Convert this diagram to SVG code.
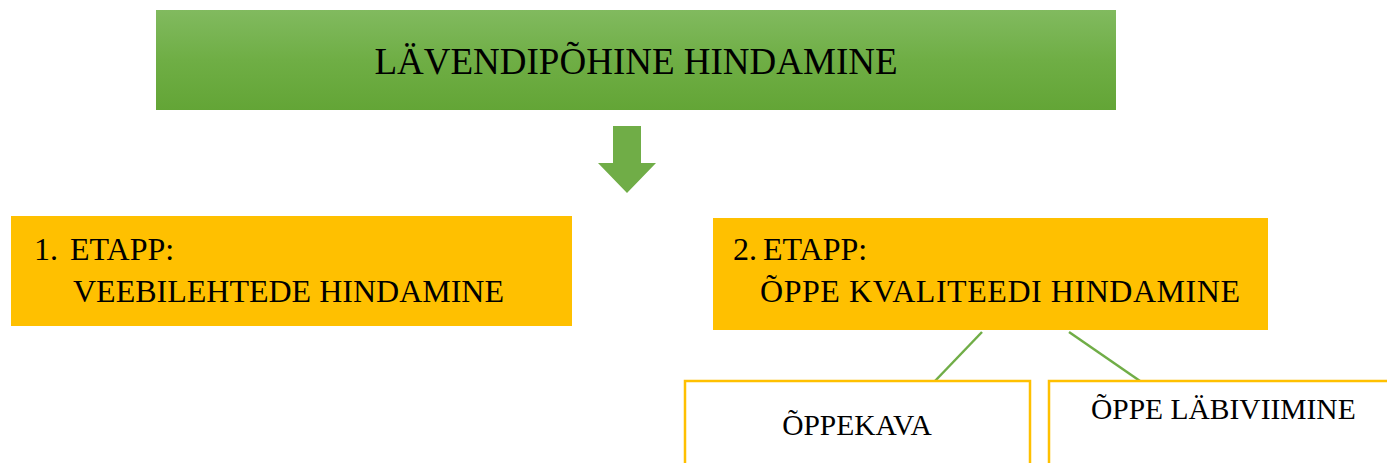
<svg xmlns="http://www.w3.org/2000/svg" width="1387" height="463" viewBox="0 0 1387 463">
<defs>
<linearGradient id="g" x1="0" y1="0" x2="0" y2="1">
<stop offset="0" stop-color="#81ba5f"/>
<stop offset="0.5" stop-color="#6fae45"/>
<stop offset="1" stop-color="#63a536"/>
</linearGradient>
</defs>
<style>
text{font-family:"Liberation Serif","Times New Roman",serif;fill:#000}
.y{fill:#ffc000}
.o{fill:#fff;stroke:#ffc000;stroke-width:2.5}
.c{stroke:#70ad47;stroke-width:2.5;fill:none}
</style>
<rect width="1387" height="463" fill="#fff"/>
<g id="title">
<rect x="156" y="10" width="960" height="100" fill="url(#g)"/>
<text x="636" y="74" font-size="37" text-anchor="middle">LÄVENDIPÕHINE HINDAMINE</text>
</g>
<g id="arrow">
<polygon points="613,126 641,126 641,163 656,163 627,193 598,163 613,163" fill="#70ad47"/>
</g>
<g id="etapp1">
<rect class="y" x="11" y="216" width="561" height="110"/>
<text x="34" y="260" font-size="32">1.</text>
<text x="70" y="260" font-size="32">ETAPP:</text>
<text x="73" y="302" font-size="32">VEEBILEHTEDE HINDAMINE</text>
</g>
<g id="etapp2">
<rect class="y" x="713" y="218" width="555" height="112"/>
<text x="733" y="260" font-size="32">2.</text>
<text x="763" y="260" font-size="32">ETAPP:</text>
<text x="760" y="302" font-size="32" textLength="480" lengthAdjust="spacing">ÕPPE KVALITEEDI HINDAMINE</text>
</g>
<g id="connectors">
<line class="c" x1="982" y1="332" x2="935" y2="381"/>
<line class="c" x1="1069" y1="332" x2="1140" y2="381"/>
</g>
<g id="oppekava">
<rect class="o" x="685" y="381" width="345" height="100"/>
<text x="857" y="435" font-size="29.5" text-anchor="middle">ÕPPEKAVA</text>
</g>
<g id="oppe-labiviimine">
<rect class="o" x="1049" y="381" width="360" height="100"/>
<text x="1091" y="419" font-size="29.5">ÕPPE LÄBIVIIMINE</text>
</g>
</svg>
